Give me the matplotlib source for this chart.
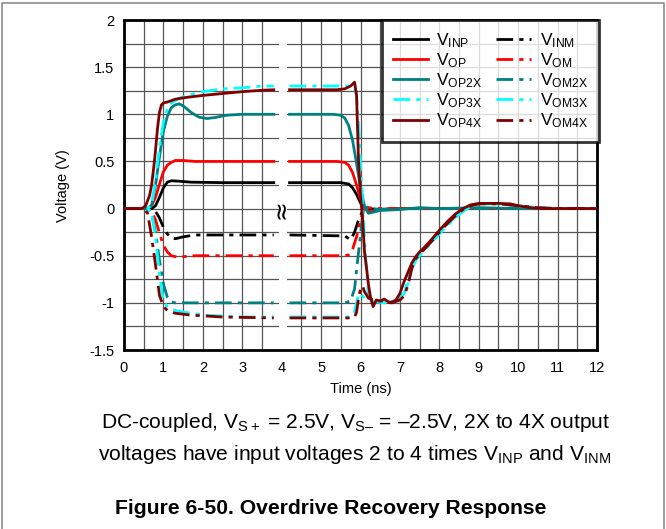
#!/usr/bin/env python3

"""
Overdrive recovery response, scope traces redrawn from the datasheet figure.
"""

import numpy as np
import matplotlib.pyplot as plt
from matplotlib.lines import Line2D
from matplotlib.ticker import MultipleLocator

plt.rcParams['font.family'] = ['Liberation Sans', 'DejaVu Sans']
plt.rcParams['mathtext.fontset'] = 'custom'
plt.rcParams['mathtext.rm'] = 'Liberation Sans'
plt.rcParams['mathtext.it'] = 'Liberation Sans:italic'
plt.rcParams['mathtext.bf'] = 'Liberation Sans:bold'

nan = np.nan

# time (ns) and voltage (V); nan marks the axis break
t_inp = [0, 0.7, 0.8, 0.9, 1.0, 1.1, 1.2, 1.4, 1.7, 2.5, 3.8, 4.0, 4.2, 5.5,
         5.7, 5.8, 5.9, 6.0, 6.1, 6.2, 6.4, 7.0, 12]
v_inp = [0, 0, 0.03, 0.12, 0.22, 0.28, 0.295, 0.29, 0.28, 0.275, 0.275, nan,
         0.275, 0.275, 0.26, 0.22, 0.15, 0.06, 0.0, -0.02, -0.01, 0, 0]

t_inm = [0, 0.7, 0.8, 0.9, 1.0, 1.1, 1.2, 1.3, 1.5, 1.8, 2.5, 3.8, 4.0, 4.2,
         5.6, 5.75, 5.85, 5.95, 6.05, 6.15, 6.25, 6.4, 7.0, 12]
v_inm = [0, 0, -0.03, -0.1, -0.2, -0.27, -0.31, -0.32, -0.3, -0.28, -0.28,
         -0.28, nan, -0.28, -0.29, -0.33, -0.25, -0.12, -0.03, 0.01, 0.0,
         -0.01, 0, 0]

t_op = [0, 0.6, 0.7, 0.8, 0.9, 1.0, 1.1, 1.2, 1.3, 1.5, 1.8, 2.5, 3.8, 4.0,
        4.2, 5.4, 5.6, 5.7, 5.8, 5.9, 6.0, 6.1, 6.2, 6.4, 6.8, 12]
v_op = [0, 0, 0.03, 0.12, 0.26, 0.39, 0.46, 0.49, 0.51, 0.51, 0.5, 0.5, 0.5,
        nan, 0.5, 0.5, 0.49, 0.46, 0.38, 0.25, 0.1, 0.0, -0.03, -0.02, 0, 0]

t_om = [0, 0.6, 0.7, 0.8, 0.9, 1.0, 1.1, 1.2, 1.3, 1.5, 1.8, 2.5, 3.8, 4.0,
        4.2, 5.6, 5.7, 5.8, 5.9, 6.0, 6.1, 6.2, 6.4, 12]
v_om = [0, 0, -0.03, -0.12, -0.26, -0.39, -0.46, -0.5, -0.51, -0.51, -0.5,
        -0.5, -0.5, nan, -0.5, -0.5, -0.49, -0.43, -0.3, -0.12, 0.0, 0.01, 0,
        0]

t_op2 = [0, 0.6, 0.7, 0.8, 0.9, 1.0, 1.1, 1.2, 1.3, 1.4, 1.5, 1.7, 1.9, 2.1,
         2.3, 2.6, 3.0, 3.8, 4.0, 4.2, 5.3, 5.5, 5.6, 5.7, 5.8, 5.9, 6.0, 6.1,
         6.2, 6.3, 6.5, 7.0, 7.5, 8.0, 9.0, 10.0, 11.0, 12]
v_op2 = [0, 0, 0.03, 0.25, 0.55, 0.82, 0.98, 1.07, 1.1, 1.11, 1.09, 1.02,
         0.97, 0.955, 0.965, 0.99, 1.0, 1.0, nan, 1.0, 1.0, 0.99, 0.96, 0.88,
         0.72, 0.48, 0.22, 0.03, -0.05, -0.04, -0.02, -0.01, 0.01, 0, 0.01, 0,
         0, 0]

t_om2 = [0, 0.6, 0.7, 0.8, 0.9, 1.0, 1.1, 1.2, 1.3, 1.5, 2.0, 3.8, 4.0, 4.2,
         5.6, 5.75, 5.85, 5.9, 6.0, 6.05, 6.1, 6.2, 6.3, 6.5, 7.0, 12]
v_om2 = [0, 0, -0.05, -0.25, -0.55, -0.8, -0.94, -0.99, -1.0, -1.0, -1.0,
         -1.0, nan, -1.0, -1.0, -0.98, -0.85, -0.65, -0.28, -0.08, 0.0, 0.02,
         0, -0.01, 0, 0]

t_op3 = [0, 0.6, 0.7, 0.8, 0.9, 1.0, 1.1, 1.2, 1.4, 1.6, 2.0, 2.5, 3.0, 3.5,
         3.8, 4.0, 4.2, 5.6, 5.75, 5.85, 5.9, 5.95, 6.0, 6.05, 6.1, 6.15, 6.2,
         6.3, 6.5, 6.7, 6.9, 7.0, 7.1, 7.2, 7.3, 7.4, 7.6, 7.8, 8.0, 8.2, 8.4,
         8.6, 8.8, 9.0, 9.5, 10.0, 10.5, 11.0, 12]
v_op3 = [0, 0, 0.04, 0.3, 0.65, 0.92, 1.06, 1.12, 1.17, 1.2, 1.24, 1.27, 1.28,
         1.3, 1.3, nan, 1.3, 1.3, 1.3, 1.28, 1.2, 0.9, 0.5, 0.1, -0.3, -0.65,
         -0.9, -0.98, -0.97, -0.99, -0.98, -0.95, -0.88, -0.78, -0.62, -0.54,
         -0.44, -0.35, -0.26, -0.17, -0.09, -0.02, 0.03, 0.05, 0.05, 0.03,
         0.01, 0, 0]

t_om3 = [0, 0.6, 0.7, 0.8, 0.9, 1.0, 1.1, 1.2, 1.4, 1.7, 2.0, 2.5, 3.0, 3.8,
         4.0, 4.2, 5.7, 5.8, 5.85, 5.9, 5.95, 6.0, 6.1, 6.2, 6.4, 6.6, 6.8,
         7.0, 7.1, 7.2, 7.3, 7.4, 7.6, 7.8, 8.0, 8.2, 8.4, 8.6, 8.8, 9.0, 9.5,
         10.0, 10.5, 11.0, 12]
v_om3 = [0, 0, -0.04, -0.3, -0.7, -0.98, -1.04, -1.07, -1.09, -1.11, -1.13,
         -1.14, -1.15, -1.15, nan, -1.15, -1.15, -1.13, -1.09, -1.0, -0.92,
         -0.9, -0.95, -0.98, -0.99, -1.0, -0.99, -0.96, -0.9, -0.8, -0.64,
         -0.55, -0.45, -0.36, -0.27, -0.18, -0.1, -0.03, 0.02, 0.05, 0.05,
         0.03, 0.01, 0, 0]

t_op4 = [0, 0.45, 0.55, 0.65, 0.7, 0.75, 0.8, 0.85, 0.9, 0.95, 1.0, 1.1, 1.3,
         1.6, 2.0, 2.5, 3.0, 3.5, 3.8, 4.0, 4.2, 5.4, 5.6, 5.75, 5.85, 5.9,
         5.95, 6.0, 6.05, 6.1, 6.15, 6.2, 6.25, 6.32, 6.4, 6.5, 6.6, 6.75, 6.9,
         7.0, 7.1, 7.2, 7.3, 7.4, 7.5, 7.6, 7.8, 8.0, 8.2, 8.4, 8.6, 8.8, 9.0,
         9.5, 9.8, 10.0, 10.3, 10.6, 11.0, 12]
v_op4 = [0, 0, 0.03, 0.14, 0.25, 0.42, 0.62, 0.85, 1.02, 1.1, 1.12, 1.13,
         1.16, 1.18, 1.2, 1.22, 1.24, 1.255, 1.26, nan, 1.26, 1.26, 1.27, 1.3,
         1.34, 1.2, 0.5, 0.15, -0.1, -0.45, -0.62, -0.8, -0.93, -1.04, -0.97,
         -0.98, -0.96, -1.0, -0.97, -0.9, -0.78, -0.68, -0.58, -0.51, -0.46,
         -0.42, -0.33, -0.23, -0.14, -0.06, 0.0, 0.04, 0.055, 0.055, 0.05,
         0.03, 0.01, 0.0, 0, 0]

t_om4 = [0, 0.5, 0.6, 0.7, 0.8, 0.9, 1.0, 1.1, 1.3, 1.7, 2.5, 3.8, 4.0, 4.2,
         5.7, 5.85, 5.9, 5.95, 6.0, 6.05, 6.1, 6.2, 6.4, 6.6, 6.8, 7.0, 7.1,
         7.2, 7.3, 7.4, 7.6, 7.8, 8.0, 8.2, 8.4, 8.6, 8.8, 9.0, 9.5, 10.0,
         10.5, 11.0, 12]
v_om4 = [0, 0, -0.05, -0.3, -0.6, -0.92, -1.04, -1.08, -1.11, -1.13, -1.15,
         -1.16, nan, -1.16, -1.16, -1.15, -1.1, -0.95, -0.85, -0.82, -0.88,
         -0.95, -0.98, -0.98, -1.0, -0.97, -0.93, -0.82, -0.64, -0.53, -0.44,
         -0.35, -0.25, -0.16, -0.08, -0.01, 0.03, 0.05, 0.05, 0.03, 0.01, 0, 0]

DASH = (0, (6, 2.2, 1.5, 2.2))


def main():
    fig = plt.figure(figsize=(6.66, 5.29), dpi=100)
    ax = fig.add_axes([124/666, 1 - 350/529, 473/666, 330/529])

    # drawing order: dark red traces end up on top like on the scope shot
    series = [
        (t_inp, v_inp, 'black', '-', r'$\mathregular{V_{INP}}$'),
        (t_inm, v_inm, 'black', DASH, r'$\mathregular{V_{INM}}$'),
        (t_op, v_op, '#ff0000', '-', r'$\mathregular{V_{OP}}$'),
        (t_om, v_om, '#ff0000', DASH, r'$\mathregular{V_{OM}}$'),
        (t_op2, v_op2, '#008080', '-', r'$\mathregular{V_{OP2X}}$'),
        (t_om2, v_om2, '#008080', DASH, r'$\mathregular{V_{OM2X}}$'),
        (t_op3, v_op3, '#00ffff', DASH, r'$\mathregular{V_{OP3X}}$'),
        (t_om3, v_om3, '#00ffff', DASH, r'$\mathregular{V_{OM3X}}$'),
        (t_om4, v_om4, '#800000', DASH, r'$\mathregular{V_{OM4X}}$'),
        (t_op4, v_op4, '#800000', '-', r'$\mathregular{V_{OP4X}}$'),
    ]
    handles = {}
    for t, v, col, ls, lab in series:
        ln, = ax.plot(t, v, color=col, ls=ls, lw=2.0, label=lab, zorder=3)
        handles[lab] = ln

    ax.set_xlim(0, 12)
    ax.set_ylim(-1.5, 2)
    ax.xaxis.set_major_locator(MultipleLocator(1))
    ax.xaxis.set_minor_locator(MultipleLocator(0.5))
    ax.yaxis.set_major_locator(MultipleLocator(0.5))
    ax.yaxis.set_minor_locator(MultipleLocator(0.25))
    ax.set_yticks(np.arange(-1.5, 2.01, 0.5))
    ax.set_yticklabels(['-1.5', '-1', '-0.5', '0', '0.5', '1', '1.5', '2'])
    ax.set_axisbelow(True)
    ax.grid(which='both', color='#555555', lw=0.9)
    ax.tick_params(which='both', length=0, labelsize=10.5)
    ax.tick_params(axis='x', pad=8)
    ax.tick_params(axis='y', pad=7)
    for sp in ax.spines.values():
        sp.set_linewidth(2.0)

    # axis break: blank the grid and mark it
    ax.axvspan(3.92, 4.13, color='white', lw=0, zorder=1)
    ax.text(4.0, -0.01, '≈', rotation=90, ha='center', va='center',
            fontsize=17, family='DejaVu Sans', zorder=4)

    order = [r'$\mathregular{V_{INP}}$', r'$\mathregular{V_{OP}}$',
             r'$\mathregular{V_{OP2X}}$', r'$\mathregular{V_{OP3X}}$',
             r'$\mathregular{V_{OP4X}}$', r'$\mathregular{V_{INM}}$',
             r'$\mathregular{V_{OM}}$', r'$\mathregular{V_{OM2X}}$',
             r'$\mathregular{V_{OM3X}}$', r'$\mathregular{V_{OM4X}}$']
    leg = ax.legend([handles[k] for k in order], order, ncol=2,
                    loc='upper right', bbox_to_anchor=(1.004, 1.0),
                    fontsize=12.5, frameon=True, fancybox=False,
                    handlelength=2.0, handletextpad=0.5, columnspacing=0.8,
                    labelspacing=0.08, borderpad=0.65, borderaxespad=0)
    leg.get_frame().set_edgecolor('black')
    leg.get_frame().set_linewidth(2.0)
    leg.set_zorder(5)

    fig.text(361/666, 1 - 389/529, 'Time (ns)', ha='center', va='center',
             fontsize=10.5)
    fig.text(63/666, 1 - 186/529, 'Voltage (V)', ha='center', va='center',
             rotation=90, fontsize=10.5)

    fig.text(356/666, 1 - 423/529,
             r'DC-coupled, V$_{\mathregular{S+}}$ = 2.5V, '
             r'V$_{\mathregular{S–}}$ = –2.5V, 2X to 4X output',
             ha='center', va='center', fontsize=15.1)
    fig.text(355/666, 1 - 455/529,
             r'voltages have input voltages 2 to 4 times '
             r'V$_{\mathregular{INP}}$ and V$_{\mathregular{INM}}$',
             ha='center', va='center', fontsize=15.1)
    fig.text(331/666, 1 - 508/529, 'Figure 6-50. Overdrive Recovery Response',
             ha='center', va='center', fontsize=15.2, fontweight='bold')

    # page frame, cut off at the bottom like the crop
    fx = [1.5/666, 1.5/666, 663.5/666, 663.5/666]
    fy = [0, 1 - 2.5/529, 1 - 2.5/529, 0]
    fig.add_artist(Line2D(fx, fy, transform=fig.transFigure,
                          color='#8c8c8c', lw=1.2))

    fig.savefig('out.png', dpi=100)


if __name__ == "__main__":
    main()
